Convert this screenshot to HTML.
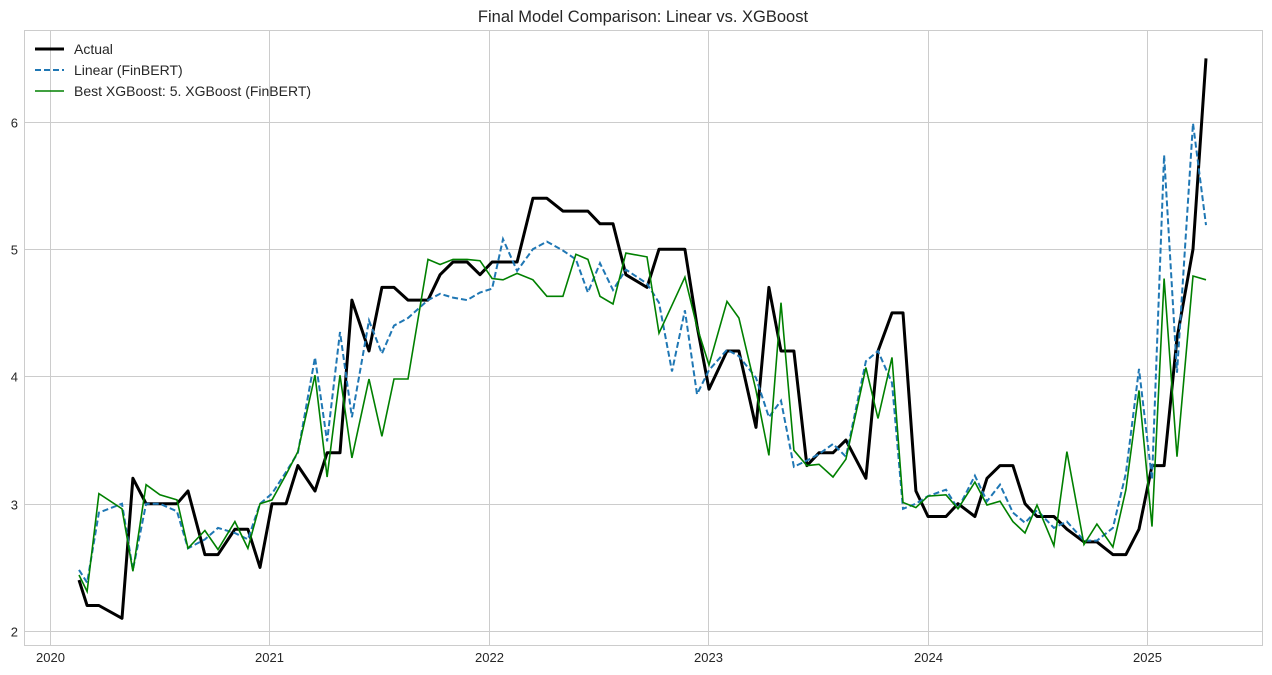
<!DOCTYPE html>
<html><head><meta charset="utf-8"><style>
html,body{margin:0;padding:0;background:#fff;}
svg{display:block;font-family:"Liberation Sans",sans-serif;}
</style></head><body>
<svg id="chart" width="1272" height="675">
<text x="643" y="22" font-size="16.5" text-anchor="middle" fill="#262626">Final Model Comparison: Linear vs. XGBoost</text>
<g id="grid"></g>
<g id="xticks"></g>
<g id="yticks"></g>
<g id="series"></g>
<rect x="24.5" y="30.5" width="1238" height="615" fill="none" stroke="#cccccc"/>
<g>
<g><line x1="35" y1="49" x2="64" y2="49" stroke="#000" stroke-width="3"/><text x="74" y="54" font-size="14" fill="#262626">Actual</text></g>
<g><line x1="35" y1="70" x2="64" y2="70" stroke="#1f77b4" stroke-width="2" stroke-dasharray="6,3"/><text x="74" y="75" font-size="14" fill="#262626">Linear (FinBERT)</text></g>
<g><line x1="35" y1="91" x2="64" y2="91" stroke="#008000" stroke-width="1.6"/><text x="74" y="96" font-size="14" fill="#262626">Best XGBoost: 5. XGBoost (FinBERT)</text></g>
</g>
</svg>
<script>
const dates=[0.132,0.169,0.223,0.328,0.378,0.438,0.501,0.579,0.629,0.706,0.766,0.843,0.902,0.957,1.012,1.076,1.130,1.208,1.263,1.322,1.376,1.454,1.513,1.568,1.632,1.723,1.778,1.837,1.901,1.960,2.015,2.065,2.129,2.201,2.265,2.338,2.397,2.452,2.507,2.566,2.625,2.721,2.776,2.835,2.894,2.949,3.004,3.086,3.140,3.218,3.277,3.332,3.391,3.450,3.505,3.569,3.628,3.719,3.774,3.838,3.888,3.947,4.002,4.084,4.139,4.216,4.271,4.330,4.389,4.444,4.499,4.576,4.635,4.713,4.772,4.845,4.904,4.964,5.023,5.078,5.137,5.210,5.269];
const actual=[2.4,2.2,2.2,2.1,3.2,3.0,3.0,3.0,3.1,2.6,2.6,2.8,2.8,2.5,3.0,3.0,3.3,3.1,3.4,3.4,4.6,4.2,4.7,4.7,4.6,4.6,4.8,4.9,4.9,4.8,4.9,4.9,4.9,5.4,5.4,5.3,5.3,5.3,5.2,5.2,4.8,4.7,5.0,5.0,5.0,4.4,3.9,4.2,4.2,3.6,4.7,4.2,4.2,3.3,3.4,3.4,3.5,3.2,4.2,4.5,4.5,3.1,2.9,2.9,3.0,2.9,3.2,3.3,3.3,3.0,2.9,2.9,2.8,2.7,2.7,2.6,2.6,2.8,3.3,3.3,4.3,5.0,6.5];
const linear=[2.48,2.38,2.93,3.0,2.48,3.0,3.0,2.94,2.65,2.72,2.81,2.77,2.72,3.0,3.08,3.25,3.4,4.15,3.49,4.35,3.68,4.44,4.18,4.4,4.46,4.6,4.65,4.62,4.6,4.66,4.69,5.08,4.83,5.0,5.06,4.99,4.92,4.66,4.89,4.68,4.84,4.73,4.58,4.04,4.52,3.86,4.05,4.21,4.16,3.99,3.68,3.81,3.29,3.34,3.39,3.47,3.37,4.12,4.2,3.95,2.96,3.0,3.06,3.11,2.96,3.22,3.02,3.15,2.93,2.85,2.95,2.81,2.86,2.71,2.71,2.81,3.24,4.06,3.19,5.74,4.03,5.99,5.19];
const xgb=[2.44,2.31,3.08,2.96,2.47,3.15,3.07,3.03,2.65,2.79,2.64,2.86,2.65,3.0,3.03,3.23,3.41,4.01,3.21,4.01,3.36,3.98,3.53,3.98,3.98,4.92,4.88,4.92,4.92,4.91,4.77,4.76,4.81,4.76,4.63,4.63,4.96,4.92,4.63,4.57,4.97,4.94,4.34,4.56,4.78,4.39,4.09,4.59,4.46,3.89,3.38,4.58,3.42,3.30,3.31,3.21,3.35,4.07,3.67,4.15,3.01,2.97,3.06,3.07,2.96,3.17,2.99,3.02,2.86,2.77,2.99,2.67,3.41,2.68,2.84,2.66,3.11,3.89,2.82,4.77,3.37,4.79,4.76];
const xTickLabels=["2020","2021","2022","2023","2024","2025"];
const yTickLabels=["2","3","4","5","6"];

const L=24,R=1263,T=30,B=646;
const X0=-0.1185,X1=5.529,Y0=1.882,Y1=6.723;
const sx=v=>L+(v-X0)/(X1-X0)*(R-L);
const sy=v=>B-(v-Y0)/(Y1-Y0)*(B-T);
const NS="http://www.w3.org/2000/svg";
const grid=document.getElementById('grid'),xt=document.getElementById('xticks'),yt=document.getElementById('yticks'),ser=document.getElementById('series');
function mk(tag,attrs,parent){const e=document.createElementNS(NS,tag);for(const k in attrs)e.setAttribute(k,attrs[k]);parent.appendChild(e);return e;}
xTickLabels.forEach((lab,i)=>{
  const x=Math.round(sx(i))+0.5;
  const gl=mk('line',{x1:x,x2:x,y1:T,y2:B,stroke:'#cccccc','stroke-width':1},grid);
  
  
  const t=mk('text',{x:x,y:662,'font-size':13,'text-anchor':'middle',fill:'#262626'},xt);
  t.textContent=lab;
  
  
});
yTickLabels.forEach(lab=>{
  const y=Math.round(sy(+lab))+0.5;
  const gl=mk('line',{x1:L,x2:R,y1:y,y2:y,stroke:'#cccccc','stroke-width':1},grid);
  
  
  const t=mk('text',{x:18,y:y+5,'font-size':13,'text-anchor':'end',fill:'#262626'},yt);
  t.textContent=lab;
  
  
});
function pts(vals){return vals.map((v,i)=>sx(dates[i]).toFixed(1)+','+sy(v).toFixed(1)).join(' ');}
const pa=mk('polyline',{points:pts(actual),fill:'none',stroke:'#000','stroke-width':3,'stroke-linejoin':'round'},ser);


const pl=mk('polyline',{points:pts(linear),fill:'none',stroke:'#1f77b4','stroke-width':2,'stroke-dasharray':'6,3'},ser);


const pg=mk('polyline',{points:pts(xgb),fill:'none',stroke:'#008000','stroke-width':1.6},ser);


</script>
</body></html>
